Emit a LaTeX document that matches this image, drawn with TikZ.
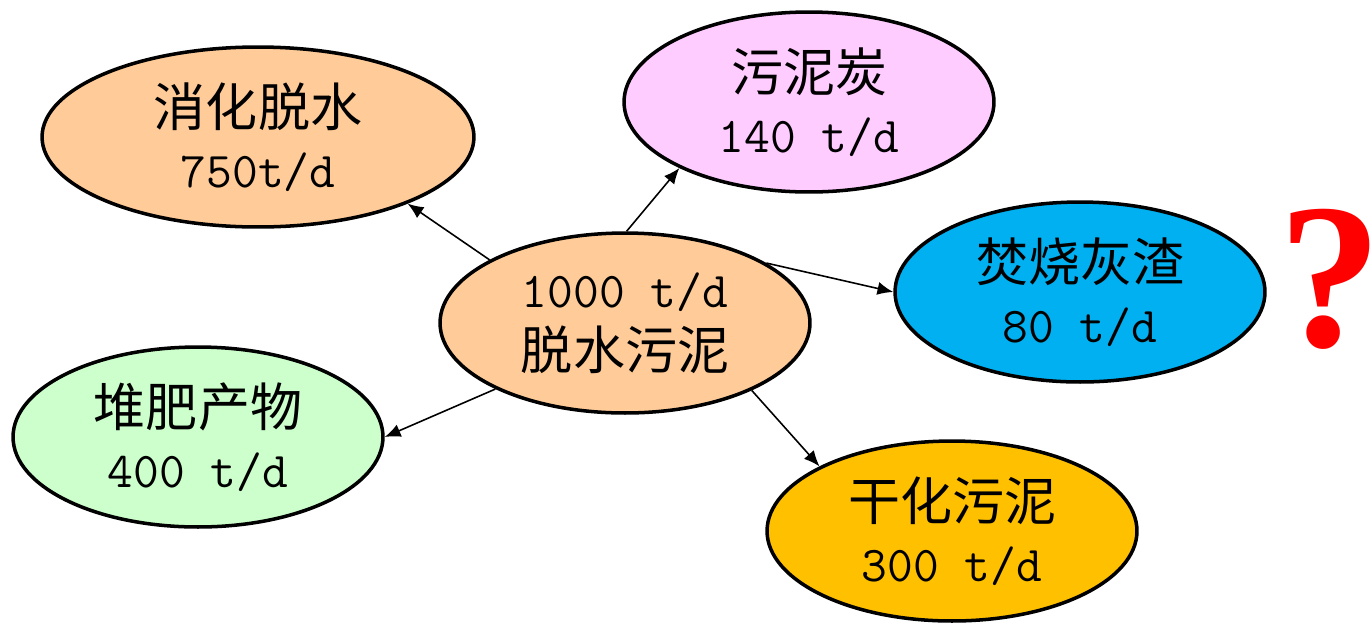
\documentclass[tikz,border=0pt]{standalone}
\usepackage{fontspec}
\newfontfamily\cjk{Noto Sans CJK SC}
\newfontfamily\qfont{Liberation Serif}
\usetikzlibrary{shapes.geometric,arrows.meta}
\definecolor{peach}{HTML}{FFCC99}
\definecolor{lilac}{HTML}{FFCCFF}
\definecolor{skyb}{HTML}{00B0F0}
\definecolor{mint}{HTML}{CCFFCC}
\definecolor{gold}{HTML}{FFC000}
\tikzset{
  blob/.style={ellipse, draw=black, line width=2pt, inner sep=0pt,
    minimum width=7.4cm, minimum height=3.6cm, align=center,
    font=\fontsize{28.5}{35}\selectfont},
  flow/.style={line width=0.9pt, -{Latex[length=9pt,width=7.5pt]}},
}
\newcommand{\cj}[1]{{\cjk\fontsize{29.6}{35}\selectfont #1}}
\newcommand{\nm}[1]{{\ttfamily #1}}
\begin{document}
\begin{tikzpicture}[x=0.02cm,y=-0.02cm]
\useasboundingbox (0,0) rectangle (1371,623);
\node[blob, fill=peach, minimum width=8.64cm] (a) at (258,137) {\cj{消化脱水}\\\nm{750t/d}};
\node[blob, fill=lilac] (b) at (809,102) {\cj{污泥炭}\\\nm{140 t/d}};
\node[blob, fill=skyb] (c) at (1080,292) {\cj{焚烧灰渣}\\\nm{80 t/d}};
\node[blob, fill=peach] (m) at (625,323) {\nm{1000 t/d}\\\cj{脱水污泥}};
\node[blob, fill=mint] (d) at (198,437) {\cj{堆肥产物}\\\nm{400 t/d}};
\node[blob, fill=gold] (e) at (952,531) {\cj{干化污泥}\\\nm{300 t/d}};
\node[text=red, font=\qfont\bfseries\fontsize{118}{118}\selectfont, inner sep=0pt] (q) at (1330,279) {?};
\draw[flow] (m.155) -- (a.-24);
\draw[flow] (m.89) -- (b.-153);
\draw[flow] (m.23.6) -- (c.180);
\draw[flow] (m.207) -- (d.0);
\draw[flow] (m.-28) -- (e.154);
\end{tikzpicture}
\end{document}
